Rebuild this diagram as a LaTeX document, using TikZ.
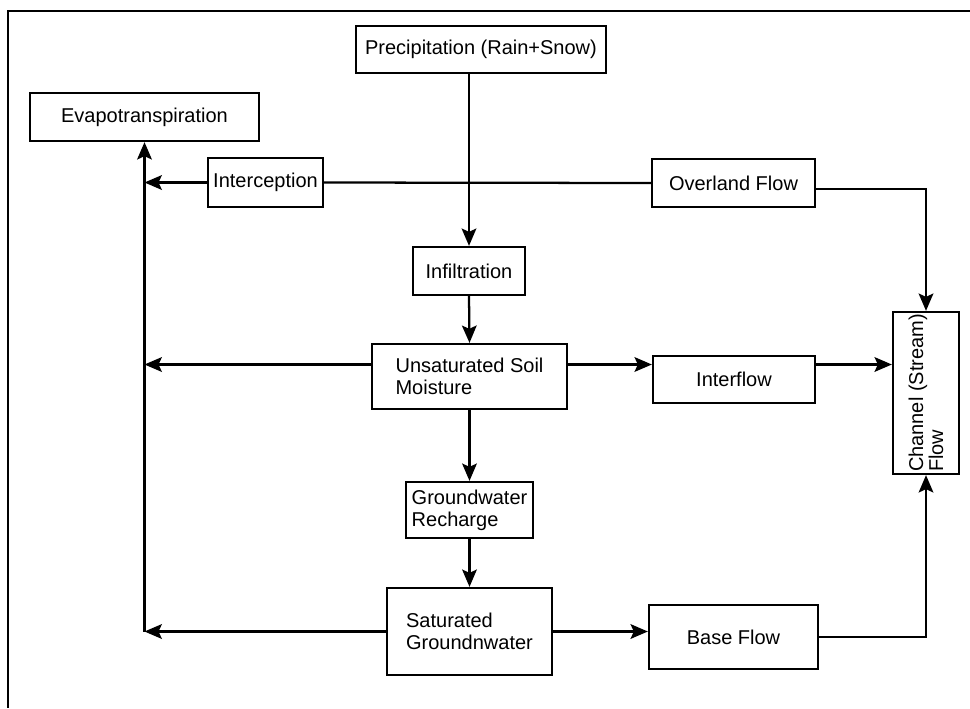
\documentclass[tikz,border=0pt]{standalone}
\usepackage{fontspec}
\setmainfont{Liberation Sans}
\usetikzlibrary{arrows.meta}

\tikzset{every picture/.style={line width=1.7pt}}
\tikzset{
  box/.style={draw, rectangle, inner sep=2pt, align=center, font=\fontsize{15}{16.5}\selectfont},
  arr/.style={-{Stealth[length=13pt,width=11pt,inset=2.5pt]}}
}

\begin{document}
\begin{tikzpicture}[x=0.75pt,y=0.75pt,yscale=-1,xscale=1]
	\useasboundingbox (0,0) rectangle (970,708);

	%Frame
	\draw [line width=1.8pt]  (970,11) -- (8,11) -- (8,708) ;

	% Text Node
	\node [box, minimum width=187.5pt, minimum height=35.25pt] (precip) at (481,49.5) {Precipitation (Rain+Snow)};
	% Text Node
	\node [box, minimum width=171.75pt, minimum height=36pt] (evap) at (144.5,117) {Evapotranspiration};
	% Text Node
	\node [box, minimum width=86.25pt, minimum height=36.75pt, inner xsep=1pt] (intc) at (265.5,182.5) {Interception};
	% Text Node
	\node [box, minimum width=122.25pt, minimum height=36pt] (over) at (733.5,183) {Overland Flow};
	% Text Node
	\node [box, minimum width=84pt, minimum height=36pt] (infil) at (469,271) {Infiltration};
	% Text Node
	\node [box, align=left, minimum width=146.25pt, minimum height=48.75pt] (unsat) at (469.5,376.5) {Unsaturated Soil\\Moisture};
	% Text Node
	\node [box, minimum width=121.5pt, minimum height=35.25pt] (interflow) at (734,379.5) {Interflow};
	% Text Node
	\node [box, align=left, minimum width=95.25pt, minimum height=42pt, inner xsep=1pt] (gwr) at (469.5,510) {Groundwater\\Recharge};
	% Text Node
	\node [box, align=left, minimum width=123.75pt, minimum height=65.25pt] (sat) at (469.5,631.5) {Saturated\\Groundnwater};
	% Text Node
	\node [box, minimum width=126.75pt, minimum height=48pt] (base) at (733.5,637) {Base Flow};
	% Text Node
	\node [box, rotate=90, align=left, inner sep=1pt, minimum width=121.5pt, minimum height=49.5pt, font=\fontsize{15}{15}\selectfont] (chan) at (926,393) {Channel (Stream)\\Flow};

	\coordinate (um) at ([yshift=-9pt]unsat.east);
	\coordinate (uw) at ([yshift=-9pt]unsat.west);
	\coordinate (oe) at ([yshift=4.5pt]over.east);

	%Straight Lines
	\draw [arr]  (precip.south -| infil.north) -- (infil.north) ;
	\draw [arr]  (infil.south) -- (unsat.north) ;
	\draw [arr]  (unsat.south) -- (gwr.north) ;
	\draw [arr]  (gwr.south) -- (sat.north) ;
	%Straight Lines
	\draw [arr]  (um) -- (um -| interflow.west) ;
	\draw [arr]  (um -| interflow.east) -- (um -| chan.north) ;
	\draw [arr]  (sat.east) -- (base.west |- sat.east) ;
	\draw [arr]  (base.east) -| (chan.west) ;
	\draw [arr]  (oe) -| (chan.east) ;
	%Straight Lines
	\draw        (over.west) -- (intc.east) ;
	\draw [arr]  (intc.west) -- (intc.west -| evap.south) ;
	\draw [arr]  (uw) -- (uw -| evap.south) ;
	\draw [arr]  (sat.west) -- (sat.west -| evap.south) ;
	\draw [arr]  (sat.west -| evap.south) -- (evap.south) ;

\end{tikzpicture}
\end{document}
